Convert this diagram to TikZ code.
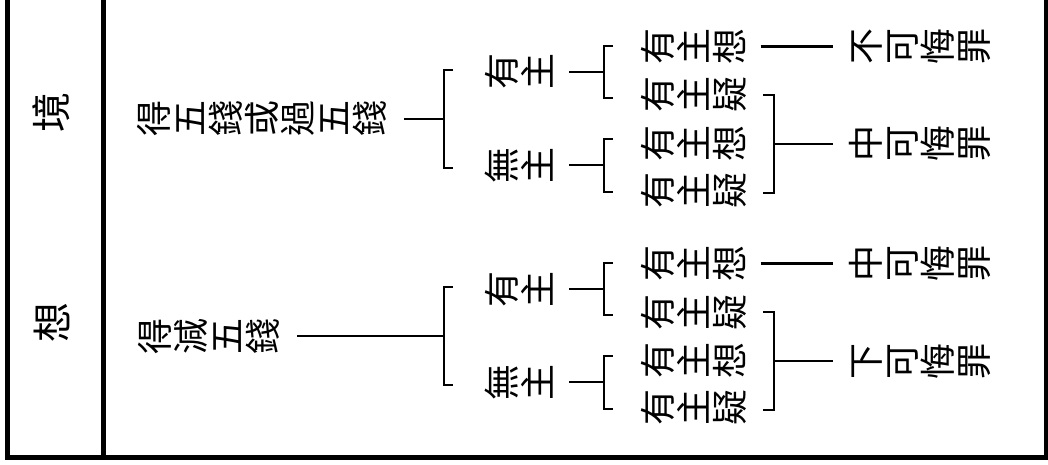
\documentclass[tikz,border=0pt]{standalone}
\usepackage{fontspec}
\usepackage{graphicx}
\newfontfamily\cjk{Noto Sans CJK TC}
\makeatletter
\newcommand\rtext[1]{\rt@loop#1\relax}
\def\rt@loop#1{\ifx\relax#1\else\rotatebox{90}{\raisebox{0pt}[0.88em][0.12em]{#1}}\expandafter\rt@loop\fi}
\makeatother
\begin{document}
\begin{tikzpicture}[x=1pt,y=-1pt,
  lbl/.style={inner sep=0pt, font=\cjk\fontsize{36}{36}\selectfont},
  side/.style={inner sep=0pt, font=\cjk\fontsize{40}{40}\selectfont},
  conn/.style={line width=2.8pt},
  frm/.style={line width=5pt}]
\useasboundingbox (0,0) rectangle (1048,465);
% frame
\draw[frm] (7.5,-10) -- (7.5,457.5) -- (1046,457.5) -- (1046,-10);
\draw[frm] (103,-10) -- (103,457.5);

% ---------- upper half ----------
\node[side] (jing) at (51,113) {\rtext{境}};
\node[lbl] (ta) at (262,119) {\rtext{得五錢或過五錢}};
\node[lbl] (ya) at (520,72) {\rtext{有主}};
\node[lbl] (wa) at (520,165) {\rtext{無主}};
\node[lbl] (ra1) at (693.5,46.5) {\rtext{有主想}};
\node[lbl] (ra2) at (693.5,95) {\rtext{有主疑}};
\node[lbl] (ra3) at (693.5,143) {\rtext{有主想}};
\node[lbl] (ra4) at (693.5,190) {\rtext{有主疑}};
\node[lbl] (pa1) at (920,46.5) {\rtext{不可悔罪}};
\node[lbl] (pa2) at (920,144) {\rtext{中可悔罪}};

\coordinate (ba) at (444,119);
\coordinate (bya) at (604,72);
\coordinate (bwa) at (604,165);
\coordinate (bra) at (774,144);
\draw[conn] (453,70) -- (444,70) -- (444,168) -- (453,168);
\draw[conn] (613,46) -- (604,46) -- (604,98) -- (613,98);
\draw[conn] (613,139) -- (604,139) -- (604,192) -- (613,192);
\draw[conn] (763,95) -- (774,95) -- (774,193) -- (763,193);
\draw[conn] ([xshift=16pt]ta.east) -- (ba);
\draw[conn] ([xshift=13pt]ya.east) -- (bya);
\draw[conn] ([xshift=13pt]wa.east) -- (bwa);
\draw[conn] ([xshift=13pt]ra1.east) -- ([xshift=-15pt]pa1.west);
\draw[conn] (bra) -- ([xshift=-15pt]pa2.west);

% ---------- lower half ----------
\node[side] (xiang) at (52,322) {\rtext{想}};
\node[lbl] (tb) at (208.5,336) {\rtext{得減五錢}};
\node[lbl] (yb) at (520,289) {\rtext{有主}};
\node[lbl] (wb) at (520,382) {\rtext{無主}};
\node[lbl] (rb1) at (693.5,263.5) {\rtext{有主想}};
\node[lbl] (rb2) at (693.5,312) {\rtext{有主疑}};
\node[lbl] (rb3) at (693.5,360) {\rtext{有主想}};
\node[lbl] (rb4) at (693.5,407) {\rtext{有主疑}};
\node[lbl] (pb1) at (920,263.5) {\rtext{中可悔罪}};
\node[lbl] (pb2) at (920,361) {\rtext{下可悔罪}};

\coordinate (bb) at (444,336);
\coordinate (byb) at (604,289);
\coordinate (bwb) at (604,382);
\coordinate (brb) at (774,361);
\draw[conn] (453,287) -- (444,287) -- (444,385) -- (453,385);
\draw[conn] (613,263) -- (604,263) -- (604,315) -- (613,315);
\draw[conn] (613,356) -- (604,356) -- (604,409) -- (613,409);
\draw[conn] (763,312) -- (774,312) -- (774,410) -- (763,410);
\draw[conn] ([xshift=16.5pt]tb.east) -- (bb);
\draw[conn] ([xshift=13pt]yb.east) -- (byb);
\draw[conn] ([xshift=13pt]wb.east) -- (bwb);
\draw[conn] ([xshift=13pt]rb1.east) -- ([xshift=-15pt]pb1.west);
\draw[conn] (brb) -- ([xshift=-15pt]pb2.west);
\end{tikzpicture}
\end{document}
